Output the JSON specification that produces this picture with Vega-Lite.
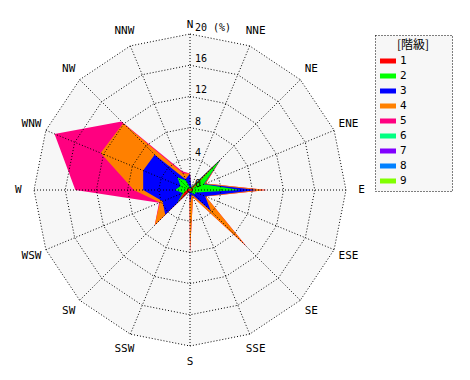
{
  "$schema": "https://vega.github.io/schema/vega-lite/v6.json",
  "width": 470,
  "height": 380,
  "padding": 0,
  "autosize": {"type": "none"},
  "background": "white",
  "config": {
    "view": {"stroke": null},
    "font": "DejaVu Sans Mono",
    "legend": {
      "fillColor": "#f7f7f7",
      "strokeColor": "black",
      "strokeDash": [1, 2],
      "padding": 5,
      "symbolType": "M-1,-0.3125H1V0.3125H-1Z",
      "symbolSize": 256,
      "symbolStrokeWidth": 0,
      "rowPadding": 2,
      "labelOffset": 4,
      "labelFontSize": 11,
      "labelFont": "DejaVu Sans Mono",
      "labelColor": "black",
      "titleFontSize": 12,
      "titleFontWeight": "normal",
      "titleColor": "black",
      "titleFont": "Noto Sans CJK JP",
      "titlePadding": 1
    }
  },
  "datasets": {
    "dirs": [
      {"i": 0, "d": "N", "rings": [4, 8, 12, 16, 20]},
      {"i": 1, "d": "NNE", "rings": [4, 8, 12, 16, 20]},
      {"i": 2, "d": "NE", "rings": [4, 8, 12, 16, 20]},
      {"i": 3, "d": "ENE", "rings": [4, 8, 12, 16, 20]},
      {"i": 4, "d": "E", "rings": [4, 8, 12, 16, 20]},
      {"i": 5, "d": "ESE", "rings": [4, 8, 12, 16, 20]},
      {"i": 6, "d": "SE", "rings": [4, 8, 12, 16, 20]},
      {"i": 7, "d": "SSE", "rings": [4, 8, 12, 16, 20]},
      {"i": 8, "d": "S", "rings": [4, 8, 12, 16, 20]},
      {"i": 9, "d": "SSW", "rings": [4, 8, 12, 16, 20]},
      {"i": 10, "d": "SW", "rings": [4, 8, 12, 16, 20]},
      {"i": 11, "d": "WSW", "rings": [4, 8, 12, 16, 20]},
      {"i": 12, "d": "W", "rings": [4, 8, 12, 16, 20]},
      {"i": 13, "d": "WNW", "rings": [4, 8, 12, 16, 20]},
      {"i": 14, "d": "NW", "rings": [4, 8, 12, 16, 20]},
      {"i": 15, "d": "NNW", "rings": [4, 8, 12, 16, 20]}
    ],
    "ringlabels": [
      {"r": 0, "t": "0"},
      {"r": 4, "t": "4"},
      {"r": 8, "t": "8"},
      {"r": 12, "t": "12"},
      {"r": 16, "t": "16"},
      {"r": 20, "t": "20 (%)"}
    ],
    "wind": [
      {"i": 0, "d": "N", "k": 1, "v": 0.1}, {"i": 0, "d": "N", "k": 2, "v": 0.2}, {"i": 0, "d": "N", "k": 3, "v": 1.8}, {"i": 0, "d": "N", "k": 4, "v": 0}, {"i": 0, "d": "N", "k": 5, "v": 0},
      {"i": 1, "d": "NNE", "k": 1, "v": 0.1}, {"i": 1, "d": "NNE", "k": 2, "v": 0.2}, {"i": 1, "d": "NNE", "k": 3, "v": 0.1}, {"i": 1, "d": "NNE", "k": 4, "v": 0}, {"i": 1, "d": "NNE", "k": 5, "v": 0},
      {"i": 2, "d": "NE", "k": 1, "v": 5.3}, {"i": 2, "d": "NE", "k": 2, "v": 0.2}, {"i": 2, "d": "NE", "k": 3, "v": 0.1}, {"i": 2, "d": "NE", "k": 4, "v": 0}, {"i": 2, "d": "NE", "k": 5, "v": 0},
      {"i": 3, "d": "ENE", "k": 1, "v": 0.3}, {"i": 3, "d": "ENE", "k": 2, "v": 1.6}, {"i": 3, "d": "ENE", "k": 3, "v": 0.1}, {"i": 3, "d": "ENE", "k": 4, "v": 0.2}, {"i": 3, "d": "ENE", "k": 5, "v": 0},
      {"i": 4, "d": "E", "k": 1, "v": 0.5}, {"i": 4, "d": "E", "k": 2, "v": 5.9}, {"i": 4, "d": "E", "k": 3, "v": 2.2}, {"i": 4, "d": "E", "k": 4, "v": 1.2}, {"i": 4, "d": "E", "k": 5, "v": 0.1},
      {"i": 5, "d": "ESE", "k": 1, "v": 0.2}, {"i": 5, "d": "ESE", "k": 2, "v": 0.6}, {"i": 5, "d": "ESE", "k": 3, "v": 1.3}, {"i": 5, "d": "ESE", "k": 4, "v": 0.1}, {"i": 5, "d": "ESE", "k": 5, "v": 0},
      {"i": 6, "d": "SE", "k": 1, "v": 0.3}, {"i": 6, "d": "SE", "k": 2, "v": 0.5}, {"i": 6, "d": "SE", "k": 3, "v": 3.0}, {"i": 6, "d": "SE", "k": 4, "v": 6.4}, {"i": 6, "d": "SE", "k": 5, "v": 0.1},
      {"i": 7, "d": "SSE", "k": 1, "v": 0.1}, {"i": 7, "d": "SSE", "k": 2, "v": 0.2}, {"i": 7, "d": "SSE", "k": 3, "v": 0.3}, {"i": 7, "d": "SSE", "k": 4, "v": 0.4}, {"i": 7, "d": "SSE", "k": 5, "v": 0},
      {"i": 8, "d": "S", "k": 1, "v": 0.1}, {"i": 8, "d": "S", "k": 2, "v": 0.2}, {"i": 8, "d": "S", "k": 3, "v": 1.4}, {"i": 8, "d": "S", "k": 4, "v": 6.4}, {"i": 8, "d": "S", "k": 5, "v": 0},
      {"i": 9, "d": "SSW", "k": 1, "v": 0.1}, {"i": 9, "d": "SSW", "k": 2, "v": 0.05}, {"i": 9, "d": "SSW", "k": 3, "v": 0.05}, {"i": 9, "d": "SSW", "k": 4, "v": 0}, {"i": 9, "d": "SSW", "k": 5, "v": 0},
      {"i": 10, "d": "SW", "k": 1, "v": 2.2}, {"i": 10, "d": "SW", "k": 2, "v": 0.1}, {"i": 10, "d": "SW", "k": 3, "v": 2.2}, {"i": 10, "d": "SW", "k": 4, "v": 1.9}, {"i": 10, "d": "SW", "k": 5, "v": 0},
      {"i": 11, "d": "WSW", "k": 1, "v": 0.8}, {"i": 11, "d": "WSW", "k": 2, "v": 0.2}, {"i": 11, "d": "WSW", "k": 3, "v": 2.8}, {"i": 11, "d": "WSW", "k": 4, "v": 0.4}, {"i": 11, "d": "WSW", "k": 5, "v": 0.1},
      {"i": 12, "d": "W", "k": 1, "v": 0.4}, {"i": 12, "d": "W", "k": 2, "v": 1.5}, {"i": 12, "d": "W", "k": 3, "v": 4.1}, {"i": 12, "d": "W", "k": 4, "v": 1.2}, {"i": 12, "d": "W", "k": 5, "v": 7.5},
      {"i": 13, "d": "WNW", "k": 1, "v": 0.3}, {"i": 13, "d": "WNW", "k": 2, "v": 1.0}, {"i": 13, "d": "WNW", "k": 3, "v": 5.2}, {"i": 13, "d": "WNW", "k": 4, "v": 5.9}, {"i": 13, "d": "WNW", "k": 5, "v": 6.4},
      {"i": 14, "d": "NW", "k": 1, "v": 0.3}, {"i": 14, "d": "NW", "k": 2, "v": 2.0}, {"i": 14, "d": "NW", "k": 3, "v": 4.1}, {"i": 14, "d": "NW", "k": 4, "v": 5.7}, {"i": 14, "d": "NW", "k": 5, "v": 0.3},
      {"i": 15, "d": "NNW", "k": 1, "v": 0.1}, {"i": 15, "d": "NNW", "k": 2, "v": 1.2}, {"i": 15, "d": "NNW", "k": 3, "v": 0.2}, {"i": 15, "d": "NNW", "k": 4, "v": 0.8}, {"i": 15, "d": "NNW", "k": 5, "v": 0.3}
    ]
  },
  "encoding": {
    "x": {"field": "x", "type": "quantitative", "scale": {"domain": [-24.359, 35.897], "nice": false, "zero": false}, "axis": null},
    "y": {"field": "y", "type": "quantitative", "scale": {"domain": [-24.359, 24.359], "nice": false, "zero": false}, "axis": null}
  },
  "layer": [
    {
      "data": {"name": "dirs"},
      "transform": [
        {"calculate": "20*sin(datum.i*PI/8)", "as": "x"},
        {"calculate": "20*cos(datum.i*PI/8)", "as": "y"}
      ],
      "mark": {"type": "line", "interpolate": "linear-closed", "filled": true, "color": "#f7f7f7"},
      "encoding": {"order": {"field": "i", "type": "quantitative"}}
    },
    {
      "data": {"name": "wind"},
      "transform": [
        {"window": [{"op": "sum", "field": "v", "as": "c"}], "groupby": ["i"], "sort": [{"field": "k", "order": "ascending"}]},
        {"calculate": "datum.c*sin(datum.i*PI/8)", "as": "x"},
        {"calculate": "datum.c*cos(datum.i*PI/8)", "as": "y"}
      ],
      "encoding": {
        "order": {"field": "i", "type": "quantitative"},
        "color": {
          "field": "k",
          "type": "nominal",
          "scale": {"domain": [1, 2, 3, 4, 5, 6, 7, 8, 9], "range": ["#ff0000", "#00ff00", "#0000ff", "#ff8000", "#ff0080", "#00ff80", "#8000ff", "#0080ff", "#80ff00"]},
          "legend": {
            "title": "[階級]",
            "orient": "none",
            "legendX": 375,
            "legendY": 35,
            "titleAnchor": "middle",
            "titleAlign": "center",
            "labelExpr": "datum.label + '\u2800\u2800\u2800\u2800\u2800'"
          }
        }
      },
      "layer": [
        {"transform": [{"filter": "datum.k == 5"}], "mark": {"type": "line", "interpolate": "linear-closed", "filled": true}},
        {"transform": [{"filter": "datum.k == 4"}], "mark": {"type": "line", "interpolate": "linear-closed", "filled": true}},
        {"transform": [{"filter": "datum.k == 3"}], "mark": {"type": "line", "interpolate": "linear-closed", "filled": true}},
        {"transform": [{"filter": "datum.k == 2"}], "mark": {"type": "line", "interpolate": "linear-closed", "filled": true}},
        {"transform": [{"filter": "datum.k == 1"}], "mark": {"type": "line", "interpolate": "linear-closed", "filled": true}}
      ]
    },
    {
      "data": {"name": "dirs"},
      "transform": [
        {"flatten": ["rings"], "as": ["r"]},
        {"calculate": "datum.r*sin(datum.i*PI/8)", "as": "x"},
        {"calculate": "datum.r*cos(datum.i*PI/8)", "as": "y"}
      ],
      "mark": {"type": "line", "interpolate": "linear-closed", "color": "black", "strokeWidth": 1, "strokeDash": [1, 2]},
      "encoding": {"order": {"field": "i", "type": "quantitative"}, "detail": {"field": "r", "type": "nominal"}}
    },
    {
      "data": {"name": "dirs"},
      "transform": [
        {"calculate": "20*sin(datum.i*PI/8)", "as": "x"},
        {"calculate": "20*cos(datum.i*PI/8)", "as": "y"}
      ],
      "mark": {"type": "rule", "color": "black", "strokeWidth": 1, "strokeDash": [1, 2]},
      "encoding": {"x2": {"datum": 0}, "y2": {"datum": 0}}
    },
    {
      "data": {"name": "dirs"},
      "transform": [
        {"filter": "datum.d != 'N'"},
        {"calculate": "22*sin(datum.i*PI/8)", "as": "x"},
        {"calculate": "22*cos(datum.i*PI/8)", "as": "y"}
      ],
      "mark": {"type": "text", "fontSize": 11, "align": "center", "baseline": "middle", "color": "black"},
      "encoding": {"text": {"field": "d"}}
    },
    {
      "data": {"name": "dirs"},
      "transform": [
        {"filter": "datum.d == 'N'"},
        {"calculate": "22*sin(datum.i*PI/8)", "as": "x"},
        {"calculate": "22*cos(datum.i*PI/8)", "as": "y"}
      ],
      "mark": {"type": "text", "fontSize": 11, "align": "center", "baseline": "middle", "color": "black", "dy": 7},
      "encoding": {"text": {"field": "d"}}
    },
    {
      "data": {"name": "ringlabels"},
      "transform": [
        {"calculate": "0", "as": "x"},
        {"calculate": "datum.r", "as": "y"}
      ],
      "mark": {"type": "text", "fontSize": 10, "align": "left", "baseline": "alphabetic", "color": "black", "dx": 5, "dy": -3},
      "encoding": {"text": {"field": "t"}}
    }
  ]
}
